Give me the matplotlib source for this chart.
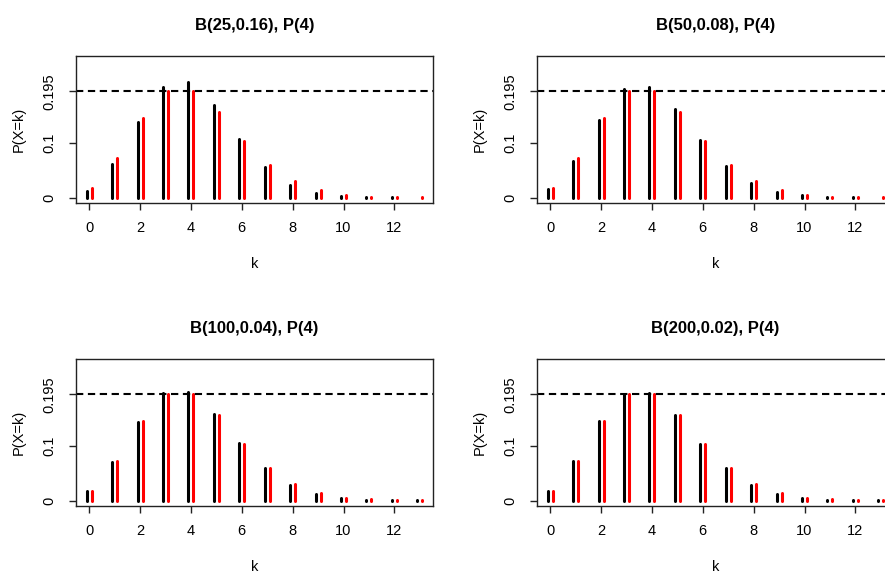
import numpy as np
import matplotlib
matplotlib.use("Agg")
import matplotlib.pyplot as plt

plt.rcParams['font.family'] = ['Liberation Sans', 'DejaVu Sans']

k = np.arange(14)

# binomial probabilities for the four (n, p) pairs with n*p = 4
binom_25 = [0.012797, 0.060938, 0.139287, 0.203403, 0.213089, 0.170471, 0.108236,
            0.055959, 0.023982, 0.008629, 0.002630, 0.000683, 0.000152, 0.000029]
binom_50 = [0.015466, 0.067244, 0.143259, 0.199317, 0.203650, 0.162920, 0.106252,
            0.058076, 0.027144, 0.011015, 0.003927, 0.001242, 0.000351, 0.000089]
binom_100 = [0.016870, 0.070291, 0.144975, 0.197327, 0.199383, 0.159506, 0.105230,
             0.058879, 0.028520, 0.012147, 0.004606, 0.001570, 0.000485, 0.000137]
binom_200 = [0.017588, 0.071788, 0.145774, 0.196347, 0.197349, 0.157879, 0.104716,
             0.059227, 0.029160, 0.012696, 0.004949, 0.001745, 0.000561, 0.000166]

# Poisson(4)
pois_4 = [0.018316, 0.073263, 0.146525, 0.195367, 0.195367, 0.156293, 0.104196,
          0.059540, 0.029770, 0.013231, 0.005292, 0.001925, 0.000642, 0.000197]

titles = ["B(25,0.16), P(4)", "B(50,0.08), P(4)",
          "B(100,0.04), P(4)", "B(200,0.02), P(4)"]
binoms = [binom_25, binom_50, binom_100, binom_200]
ref_line = 0.195

fig = plt.figure(figsize=(8.85, 5.72), dpi=100)

# axes boxes: [left, bottom, width, height]
pos = [[0.0859, 0.6451, 0.4034, 0.2570],
       [0.6068, 0.6451, 0.4034, 0.2570],
       [0.0859, 0.1154, 0.4034, 0.2570],
       [0.6068, 0.1154, 0.4034, 0.2570]]

for i in range(4):
  ax = fig.add_axes(pos[i])
  ax.vlines(k - 0.1, 0, binoms[i], color='black', lw=2.2, capstyle='round')
  ax.vlines(k + 0.1, 0, pois_4, color='red', lw=2.2, capstyle='round')
  ax.axhline(ref_line, color='black', lw=1.5, ls=(0, (3.5, 2.2)))

  ax.set_xlim(-0.52, 13.52)
  ax.set_ylim(-0.01, 0.26)
  ax.set_xticks([0, 2, 4, 6, 8, 10, 12])
  ax.set_yticks([0, 0.1, 0.195])
  ax.set_yticklabels(['0', '0.1', '0.195'], rotation=90, va='center')
  ax.tick_params(axis='both', length=5, width=1, labelsize=10.5, color='#222222')
  ax.tick_params(axis='x', pad=8)
  ax.tick_params(axis='y', pad=9)
  for s in ax.spines.values():
    s.set_linewidth(1)
    s.set_color('#222222')

  ax.set_title(titles[i], fontsize=12, fontweight='bold', pad=19)
  ax.set_xlabel('k', fontsize=10.5, labelpad=15.5)
  ax.set_ylabel('P(X=k)', fontsize=10.5, labelpad=12)

fig.savefig('out.png', dpi=100)
